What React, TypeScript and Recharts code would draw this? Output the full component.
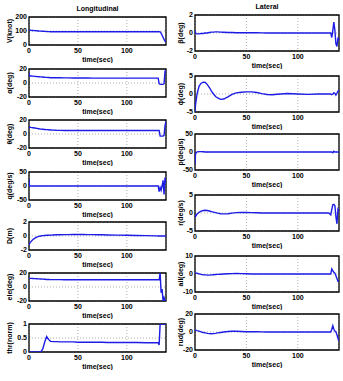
import React from "react";
import {
  LineChart,
  Line,
  XAxis,
  YAxis,
  CartesianGrid,
  ReferenceArea,
} from "recharts";

// time stamps (sec), denser at the start and at the final manoeuvre
const time = [
  0, 0.5, 2, 4, 6, 8, 10, 12, 14, 16, 18, 20, 22, 25, 28, 32, 36, 40, 45, 50,
  55, 60, 65, 70, 75, 80, 90, 100, 110, 120, 130, 132, 133, 134, 135, 136, 137,
  138, 139, 140,
];

// longitudinal
const speed = [
  106, 106, 105, 104, 103, 102, 100, 99, 98, 97, 96, 95.5, 95, 95, 95, 95, 95,
  95, 95, 95, 95, 95, 95, 95, 95, 95, 95, 95, 95, 95, 95, 95, 95, 94, 85, 70,
  55, 40, 28, 20,
];
const alpha = [
  15, 10, 10, 9.8, 9.5, 9.2, 9, 8.8, 8.5, 8.2, 8, 7.8, 7.6, 7.5, 7.5, 7.4, 7.3,
  7.3, 7.2, 7.2, 7.1, 7.1, 7, 7, 7, 7, 7, 7, 7, 7, 7, 7, -1, -2, -2, -2, -2, -1,
  17, 18,
];
const theta = [
  8, 10, 9.5, 9, 8.5, 8, 7.5, 7, 6.8, 6.5, 6.2, 6, 5.8, 5.5, 5.3, 5.2, 5, 5, 5,
  5, 5, 5, 5, 5, 5, 5, 5, 5, 5, 5, 5, 5, 5, -3, -3, -3, -3, -2, 12, 18,
];
const pitchRate = [
  25, 0, 0, 0, 0, 0, 0, 0, 0, 0, 0, 0, 0, 0, 0, 0, 0, 0, 0, 0, 0, 0, 0, 0, 0,
  0, 0, 0, 0, 0, 0, 0, -20, -5, -15, 0, 20, -30, 30, 10,
];
const altErr = [
  -1.3, -1.1, -0.8, -0.5, -0.3, -0.15, -0.05, 0, 0.05, 0.08, 0.1, 0.1, 0.12,
  0.15, 0.17, 0.18, 0.2, 0.2, 0.22, 0.22, 0.22, 0.2, 0.2, 0.18, 0.17, 0.15,
  0.12, 0.1, 0.08, 0.05, 0.02, 0, 0, 0, 0, 0, 0, 0, 0, 0,
];
const elevator = [
  13, 12.5, 12.3, 12.2, 12, 11.8, 11.6, 11.4, 11.2, 11, 10.8, 10.7, 10.6, 10.5,
  10.5, 10.5, 10.4, 10.4, 10.4, 10.3, 10.3, 10.3, 10.3, 10.3, 10.3, 10.3, 10.3,
  10.3, 10.3, 10.3, 10.3, 10.3, 10.3, 20, -8, -3, -20, -15, -20, -20,
];
const throttle = [
  0, 0, 0, 0, 0, 0, 0, 0, 0.1, 0.35, 0.55, 0.45, 0.38, 0.37, 0.37, 0.36, 0.36,
  0.36, 0.36, 0.35, 0.35, 0.35, 0.35, 0.35, 0.35, 0.34, 0.34, 0.34, 0.34,
  0.33, 0.33, 0.33, 0.25, 1, 1, 1, 1, 1, 1, 1,
];

// lateral
const beta = [
  0.3, 0, -0.1, -0.1, -0.05, -0.05, 0, 0, 0.05, 0.1, 0.1, 0.12, 0.12, 0.1,
  0.08, 0.05, 0.05, 0.03, 0.03, 0.02, 0.02, 0.02, 0.01, 0, 0, 0, 0, 0, 0, 0, 0,
  0, -0.5, 0.3, 1.2, 0.3, -1.2, -1.5, -0.5, -0.8,
];
const phi = [
  -5, -3, 0, 2.2, 3, 3.3, 3.2, 2.6, 1.8, 0.8, 0, -0.7, -1.1, -1.5, -1.4, -0.8,
  -0.1, 0.3, 0.5, 0.6, 0.6, 0.4, 0.1, -0.15, -0.2, -0.05, 0.15, 0, -0.1, 0, 0,
  0, -0.2, 0, 0.3, 0.2, -0.3, 0.2, 0.8, 1,
];
const rollRate = [
  -35, -5, 0.5, 1, 1, 0.5, 0, 0, 0, 0, 0, 0, 0, 0, 0, 0, 0, 0, 0, 0, 0, 0, 0,
  0, 0, 0, 0, 0, 0, 0, 0, 0, 0, -2, 2, 0, 0, 0, 0, 0,
];
const yawRate = [
  -0.5, -1, -0.3, 0.2, 0.5, 0.7, 0.75, 0.7, 0.55, 0.4, 0.25, 0.1, -0.05, -0.2,
  -0.25, -0.2, -0.05, 0.1, 0.15, 0.15, 0.1, 0.05, 0, 0, 0, 0, 0, 0, 0, 0, 0,
  -0.5, 1, 2.3, 2.4, 2, -1, -3, 1, 0.5,
];
const aileron = [
  0.7, 0.6, 0.4, 0.1, -0.2, -0.4, -0.5, -0.6, -0.6, -0.5, -0.4, -0.3, -0.2,
  -0.1, 0, 0.1, 0.2, 0.3, 0.2, 0.1, 0, 0, 0, 0, 0, 0, 0, 0, 0, 0, 0, 0, 2.8,
  1.8, 1, 0.5, -1, -2.5, -4, -4,
];
const rudder = [
  2, 2, 1.5, 1, 0.2, -0.5, -1, -1.5, -1.8, -2, -1.8, -1.5, -1, -0.5, 0, 0.5,
  0.8, 0.8, 0.5, 0.3, 0.2, 0.2, 0.1, 0, 0, 0, 0, 0, 0, 0, 0, 0, 3, 7, 3, 1, 0,
  -3, -7, -10,
];

const timeTicks = [0, 50, 100];

const rows = time.map((t, i) => ({
  t,
  V: speed[i],
  alpha: alpha[i],
  theta: theta[i],
  q: pitchRate[i],
  D: altErr[i],
  ele: elevator[i],
  thr: throttle[i],
  beta: beta[i],
  phi: phi[i],
  p: rollRate[i],
  r: yawRate[i],
  ail: aileron[i],
  rud: rudder[i],
}));

const FONT = '"Liberation Sans", Arial, Helvetica, sans-serif';
const tickStyle = { fontSize: 7, fontWeight: "bold", fill: "#000", fontFamily: FONT };

const leftPanels = [
  { key: "V", label: "V(knot)", domain: [0, 200], ticks: [0, 100, 200], top: 17 },
  { key: "alpha", label: "α(deg)", domain: [-20, 20], ticks: [-20, 0, 20], top: 69 },
  { key: "theta", label: "θ(deg)", domain: [-20, 20], ticks: [-20, 0, 20], top: 120 },
  { key: "q", label: "q(deg/s)", domain: [-50, 50], ticks: [-50, 0, 50], top: 172 },
  { key: "D", label: "D(m)", domain: [-2, 2], ticks: [-2, 0, 2], top: 222 },
  { key: "ele", label: "ele(deg)", domain: [-20, 20], ticks: [-20, 0, 20], top: 273 },
  { key: "thr", label: "thr(norm)", domain: [0, 1], ticks: [0, 0.5, 1], top: 324 },
];

const rightPanels = [
  { key: "beta", label: "β(deg)", domain: [-2, 2], ticks: [-2, 0, 2], top: 15 },
  { key: "phi", label: "ϕ(deg)", domain: [-5, 5], ticks: [-5, 0, 5], top: 76 },
  { key: "p", label: "p(deg/s)", domain: [-50, 50], ticks: [-50, 0, 50], top: 134 },
  { key: "r", label: "r(deg/s)", domain: [-5, 5], ticks: [-5, 0, 5], top: 195 },
  { key: "ail", label: "ail(deg)", domain: [-10, 10], ticks: [-10, 0, 10], top: 256 },
  { key: "rud", label: "rud(deg)", domain: [-20, 20], ticks: [-20, 0, 20], top: 314 },
];

function Panel({ cfg, left, width, plotH, axisW, labelDx }) {
  const mTop = 4;
  const xAxisH = 18;
  const yLabel = (props: any) => {
    const vb = props.viewBox || {};
    const x = (vb.x || 0) + labelDx;
    const y = (vb.y || 0) + (vb.height || 0) / 2;
    return (
      <text
        x={x}
        y={y}
        transform={`rotate(-90 ${x} ${y})`}
        textAnchor="middle"
        dominantBaseline="central"
        style={tickStyle}
      >
        {cfg.label}
      </text>
    );
  };
  return (
    <div style={{ position: "absolute", left, top: cfg.top - mTop }}>
      <LineChart
        width={width}
        height={mTop + plotH + xAxisH}
        data={rows}
        margin={{ top: mTop, right: 4, bottom: 0, left: 0 }}
      >
        <CartesianGrid stroke="#8c8c8c" strokeDasharray="1 2" strokeWidth={0.7} />
        <XAxis
          dataKey="t"
          type="number"
          domain={[0, 140]}
          ticks={timeTicks}
          allowDataOverflow
          tickSize={0}
          tickMargin={3}
          axisLine={false}
          height={xAxisH}
          tick={tickStyle}
          label={{
            value: "time(sec)",
            position: "insideBottom",
            offset: 1,
            style: tickStyle,
          }}
        />
        <YAxis
          type="number"
          domain={cfg.domain}
          ticks={cfg.ticks}
          allowDataOverflow
          tickSize={0}
          tickMargin={2}
          axisLine={false}
          width={axisW}
          tick={tickStyle}
          interval={0}
          label={yLabel}
        />
        <Line
          type="linear"
          dataKey={cfg.key}
          stroke="#1c1ce6"
          strokeWidth={1.4}
          dot={false}
          isAnimationActive={false}
        />
        <ReferenceArea
          x1={0}
          x2={140}
          y1={cfg.domain[0]}
          y2={cfg.domain[1]}
          fill="none"
          fillOpacity={0}
          stroke="#000"
          strokeWidth={1.3}
        />
      </LineChart>
    </div>
  );
}

export default function App() {
  return (
    <div
      style={{
        position: "absolute",
        left: 0,
        top: 0,
        width: 343,
        height: 381,
        background: "#fff",
        fontFamily: FONT,
      }}
    >
      <div
        style={{
          position: "absolute",
          left: 29,
          width: 137,
          top: 5,
          textAlign: "center",
          fontSize: 7,
          fontWeight: "bold",
        }}
      >
        Longitudinal
      </div>
      <div
        style={{
          position: "absolute",
          left: 195,
          width: 144,
          top: 3,
          textAlign: "center",
          fontSize: 7,
          fontWeight: "bold",
        }}
      >
        Lateral
      </div>
      {leftPanels.map((cfg) => (
        <Panel key={cfg.key} cfg={cfg} left={0} width={170} plotH={28} axisW={29} labelDx={9} />
      ))}
      {rightPanels.map((cfg) => (
        <Panel key={cfg.key} cfg={cfg} left={170} width={173} plotH={36} axisW={25} labelDx={10} />
      ))}
    </div>
  );
}
